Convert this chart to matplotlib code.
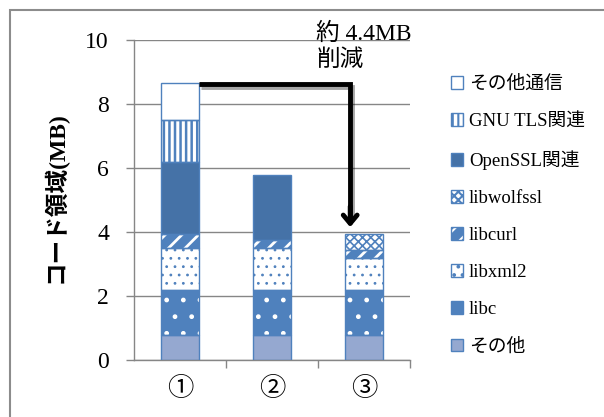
import matplotlib
matplotlib.use('Agg')
import matplotlib.pyplot as plt
import matplotlib.patheffects as pe
from matplotlib.patches import Patch, Rectangle
from matplotlib.legend_handler import HandlerTuple
import numpy as np

plt.rcParams['font.family'] = ['Liberation Serif', 'Noto Sans CJK JP']
plt.rcParams['hatch.linewidth'] = 1.5

categories = ['①', '②', '③']

# stack order, bottom to top
series = ['その他', 'libc', 'libxml2', 'libcurl', 'libwolfssl',
          'OpenSSL関連', 'GNU TLS関連', 'その他通信']
other = [0.78, 0.78, 0.78]
libc = [1.41, 1.41, 1.41]
libxml2 = [1.30, 1.30, 1.01]
libcurl = [0.44, 0.26, 0.23]
libwolfssl = [0.0, 0.0, 0.52]
openssl = [2.27, 2.03, 0.0]
gnutls = [1.30, 0.0, 0.0]
other_comm = [1.17, 0.0, 0.0]
values = [other, libc, libxml2, libcurl, libwolfssl, openssl, gnutls, other_comm]

reduction_label = '約 4.4MB\n削減'

BLUE = '#4F81BD'
# (face colour, hatch, hatch colour, hatch width) per series
styles = [
    ('#95A8D0', None, None, 1.0),
    (BLUE, '.', 'white', 1.0),
    ('white', '..', BLUE, 0.8),
    (BLUE, '//', 'white', 2.0),
    ('white', 'xxxx', BLUE, 1.2),
    ('#4572A7', None, None, 1.0),
    ('white', '|||', BLUE, 1.8),
    ('white', None, None, 1.0),
]


def hatched(p, hw):
    if hasattr(p, 'set_hatch_linewidth'):
        p.set_hatch_linewidth(hw)
    return p


fig = plt.figure(figsize=(6.04, 4.17), dpi=100)
ax = fig.add_axes([134 / 604, 57 / 417, 276 / 604, 320 / 417])

x = np.arange(len(categories))
width = 0.41
bottom = np.zeros(len(categories))
handles = []
for name, vals, (fc, hatch, hc, hw) in zip(series, values, styles):
    vals = np.array(vals)
    for i in range(len(categories)):
        if vals[i] <= 0:
            continue
        bars = ax.bar(x[i], vals[i], width, bottom=bottom[i], color=fc,
                      hatch=hatch, edgecolor=hc if hatch else fc,
                      linewidth=0, zorder=2)
        for b in bars:
            hatched(b, hw)
        ax.bar(x[i], vals[i], width, bottom=bottom[i], fill=False,
               edgecolor=BLUE, linewidth=1.0, zorder=3)
    bottom += vals
    handles.append((hatched(Patch(facecolor=fc, hatch=hatch,
                                  edgecolor=hc if hatch else fc,
                                  linewidth=0), hw),
                    Patch(fill=False, edgecolor=BLUE, linewidth=1.0)))

ax.set_xlim(-0.5, 2.5)
ax.set_ylim(0, 10)
ax.set_yticks(np.arange(0, 11, 2))
ax.set_xticks(x)
ax.set_xticklabels(categories, fontsize=19)
ax.set_xticks([0.5, 1.5, 2.5], minor=True)
ax.tick_params(axis='x', which='major', length=0, pad=12)
ax.tick_params(axis='x', which='minor', length=6, color='#868686', width=1)
ax.tick_params(axis='y', length=6, color='#868686', width=1, pad=12,
               labelsize=17)
ax.yaxis.grid(True, color='#868686', linewidth=1)
ax.set_axisbelow(True)
for s in ['top', 'right']:
    ax.spines[s].set_visible(False)
for s in ['left', 'bottom']:
    ax.spines[s].set_color('#868686')
    ax.spines[s].set_linewidth(1)

ax.set_ylabel('コード領域(MB)', fontsize=17, fontweight='bold')
ax.yaxis.set_label_coords(-0.24, 0.51)

# reduction arrow from the top of ① down to ③
top1 = bottom[0]
shadow = [pe.SimpleLineShadow(offset=(1.5, -1.5), alpha=0.35), pe.Normal()]
ax.plot([x[0] + width / 2, 1.85, 1.85], [top1 - 0.06, top1 - 0.06, 4.4],
        color='black', lw=3.5, solid_joinstyle='miter', solid_capstyle='butt',
        zorder=5, clip_on=False, path_effects=shadow)
ax.annotate('', xy=(1.85, bottom[2] + 0.2), xytext=(1.85, 4.8),
            arrowprops=dict(arrowstyle='->,head_length=0.6,head_width=0.5',
                            color='black', lw=3.5, shrinkA=0, shrinkB=0),
            zorder=5)
ax.text(1.48, 10.55, reduction_label, fontsize=17, va='top', ha='left',
        linespacing=1.3, clip_on=False)

ax.legend(handles[::-1], series[::-1], loc='upper left',
          bbox_to_anchor=(451 / 604, 1 - 76 / 417),
          bbox_transform=fig.transFigure, frameon=False, fontsize=13.5,
          handlelength=0.65, handleheight=0.65, handletextpad=0.3,
          labelspacing=1.07, borderpad=0, borderaxespad=0,
          handler_map={tuple: HandlerTuple(ndivide=1, pad=0)})

# chart-area frame
fig.add_artist(Rectangle((10 / 604, -0.2), 1.5, 1 - 10 / 417 + 0.2,
                         transform=fig.transFigure, fill=False,
                         edgecolor='#8C8C8C', linewidth=1.5))

fig.savefig('out.png', dpi=100)
